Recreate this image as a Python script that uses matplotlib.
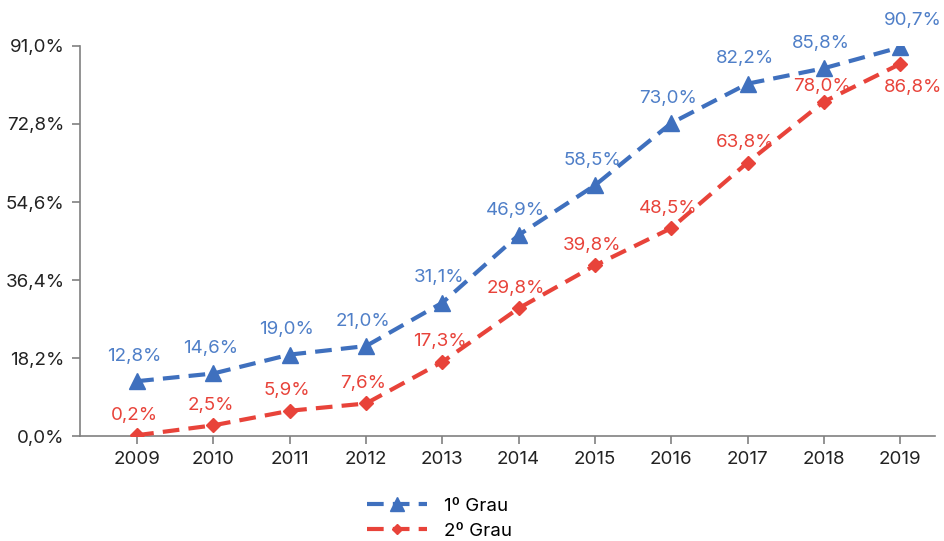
import matplotlib.pyplot as plt
import numpy as np

plt.rcParams['font.family'] = ['Inter', 'DejaVu Sans']

years = [2009, 2010, 2011, 2012, 2013, 2014, 2015, 2016, 2017, 2018, 2019]
grau1 = [12.8, 14.6, 19.0, 21.0, 31.1, 46.9, 58.5, 73.0, 82.2, 85.8, 90.7]
grau2 = [0.2, 2.5, 5.9, 7.6, 17.3, 29.8, 39.8, 48.5, 63.8, 78.0, 86.8]
yticks = [0.0, 18.2, 36.4, 54.6, 72.8, 91.0]

blue = '#3F70BE'
red = '#E8433A'
blue_txt = '#4F7FC8'
fs = 13.5

def fmt(v):
    return f"{v:.1f}%".replace('.', ',')

fig = plt.figure(figsize=(9.44, 5.41), dpi=100)
ax = fig.add_axes([0.0847, 0.194, 0.906, 0.721])

ax.plot(years, grau1, color=blue, lw=3, ls=(0, (4, 2.2)), marker='^', ms=12,
        label='1º Grau', zorder=3)
ax.plot(years, grau2, color=red, lw=3, ls=(0, (4, 2.2)), marker='D', ms=7,
        label='2º Grau', zorder=3)

# data labels
for i, (x, v) in enumerate(zip(years, grau1)):
    off = (9, 19) if i == len(years) - 1 else (-2, 18)
    ax.annotate(fmt(v), (x, v), xytext=off, textcoords='offset points',
                ha='center', va='center', color=blue_txt, fontsize=fs)
for i, (x, v) in enumerate(zip(years, grau2)):
    if i == len(years) - 1:
        off = (9, -17)
    elif i == len(years) - 2:
        off = (-1, 11)
    else:
        off = (-2, 14.5)
    ax.annotate(fmt(v), (x, v), xytext=off, textcoords='offset points',
                ha='center', va='center', color=red, fontsize=fs)

ax.set_xlim(2008.25, 2019.46)
ax.set_ylim(0, 91)
ax.set_xticks(years)
ax.set_xticklabels([str(y) for y in years], fontsize=fs)
ax.set_yticks(yticks)
ax.set_yticklabels([fmt(t) for t in yticks], fontsize=fs)

for s in ['top', 'right']:
    ax.spines[s].set_visible(False)
for s in ['left', 'bottom']:
    ax.spines[s].set_color('#808080')
    ax.spines[s].set_linewidth(1.2)
ax.tick_params(axis='both', colors='#808080', length=6, width=1.2,
               labelcolor='#222222', pad=5)

ax.legend(loc='upper center', bbox_to_anchor=(0.42, -0.115), frameon=False,
          fontsize=fs, handlelength=3.2, labelspacing=0.4, handletextpad=0.9,
          markerscale=0.8)

fig.savefig('out.png', dpi=100)
